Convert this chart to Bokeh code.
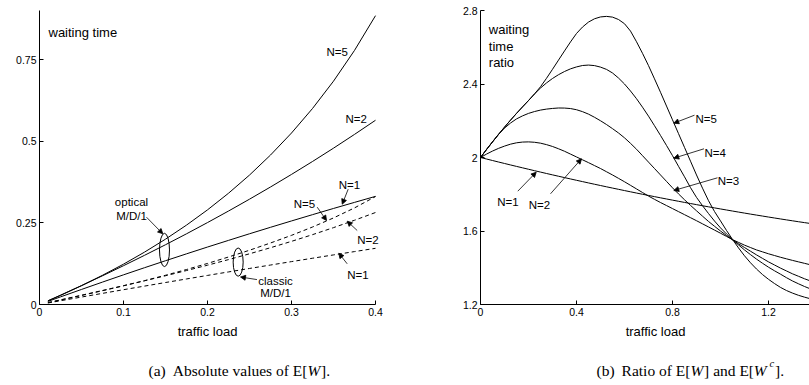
import numpy as np
from bokeh.plotting import figure
from bokeh.layouts import row, column
from bokeh.models import (Range1d, FixedTicker, CustomJSTickFormatter, Label,
                          Arrow, NormalHead)
from bokeh.embed import file_html
from bokeh.resources import INLINE

SANS = "Liberation Sans"
SERIF = "Liberation Serif"

# ---------------- (a) absolute waiting time ----------------
load_a = [0.01, 0.025, 0.05, 0.075, 0.1, 0.125, 0.15, 0.175, 0.2,
          0.225, 0.25, 0.275, 0.3, 0.325, 0.35, 0.375, 0.4]
optical_n1 = [0.0094, 0.0233, 0.0461, 0.0686, 0.0908, 0.1126, 0.1340, 0.1551, 0.1759,
              0.1963, 0.2165, 0.2363, 0.2558, 0.2750, 0.2940, 0.3126, 0.3310]
optical_n2 = [0.0113, 0.0286, 0.0579, 0.0880, 0.1188, 0.1505, 0.1830, 0.2164, 0.2508,
              0.2861, 0.3224, 0.3597, 0.3982, 0.4378, 0.4786, 0.5207, 0.5640]
optical_n5 = [0.0109, 0.0278, 0.0575, 0.0894, 0.1235, 0.1603, 0.2000, 0.2430, 0.2897,
              0.3406, 0.3962, 0.4575, 0.5250, 0.6000, 0.6837, 0.7778, 0.8842]
classic_n1 = [0.0046, 0.0115, 0.0228, 0.0341, 0.0453, 0.0563, 0.0673, 0.0782, 0.0890,
              0.0997, 0.1103, 0.1208, 0.1313, 0.1416, 0.1518, 0.1620, 0.1720]
classic_n2 = [0.0057, 0.0142, 0.0284, 0.0429, 0.0576, 0.0726, 0.0880, 0.1039, 0.1203,
              0.1374, 0.1552, 0.1738, 0.1933, 0.2138, 0.2353, 0.2579, 0.2816]
classic_n5 = [0.0054, 0.0136, 0.0276, 0.0422, 0.0572, 0.0729, 0.0895, 0.1071, 0.1257,
              0.1454, 0.1661, 0.1883, 0.2117, 0.2372, 0.2650, 0.2957, 0.3305]

xticks_a = [0, 0.1, 0.2, 0.3, 0.4]
xtick_labels_a = ["0", "0.1", "0.2", "0.3", "0.4"]
yticks_a = [0, 0.25, 0.5, 0.75]
ytick_labels_a = ["0", "0.25", "0.5", "0.75"]

# ---------------- (b) waiting time ratio ----------------
load_b = [0.0, 0.025, 0.05, 0.075, 0.1, 0.125, 0.15, 0.175, 0.2, 0.225,
          0.25, 0.275, 0.3, 0.325, 0.35, 0.375, 0.4, 0.425, 0.45, 0.475,
          0.5, 0.525, 0.55, 0.575, 0.6, 0.625, 0.65, 0.675, 0.7, 0.725,
          0.75, 0.775, 0.8, 0.825, 0.85, 0.875, 0.9, 0.925, 0.95, 0.975,
          1.0, 1.025, 1.05, 1.075, 1.1, 1.125, 1.15, 1.175, 1.2, 1.225,
          1.25, 1.275, 1.3, 1.325, 1.35, 1.375, 1.4]
ratio_n1 = [2.0, 1.9918, 1.9836, 1.9755, 1.9675, 1.9595, 1.9516, 1.9438, 1.936, 1.9283,
            1.9206, 1.913, 1.9055, 1.898, 1.8906, 1.8833, 1.876, 1.8688, 1.8616, 1.8545,
            1.8475, 1.8405, 1.8336, 1.8268, 1.820, 1.8133, 1.8066, 1.800, 1.7935, 1.787,
            1.7806, 1.7743, 1.768, 1.7618, 1.7556, 1.7495, 1.7435, 1.7375, 1.7316, 1.7258,
            1.720, 1.7143, 1.7086, 1.703, 1.6975, 1.692, 1.6866, 1.6813, 1.676, 1.6708,
            1.6656, 1.6605, 1.6555, 1.6505, 1.6456, 1.6408, 1.636]
ratio_n2 = [2.0, 2.0185, 2.035, 2.0496, 2.062, 2.0726, 2.080, 2.084, 2.085, 2.0829,
            2.078, 2.070, 2.060, 2.0476, 2.034, 2.0185, 2.003, 1.9875, 1.972, 1.956,
            1.940, 1.9225, 1.905, 1.8865, 1.868, 1.8485, 1.829, 1.8095, 1.790, 1.7723,
            1.755, 1.7385, 1.722, 1.7055, 1.689, 1.6725, 1.656, 1.639, 1.622, 1.605,
            1.588, 1.5705, 1.553, 1.538, 1.523, 1.510, 1.497, 1.4865, 1.476, 1.4665,
            1.457, 1.4485, 1.440, 1.432, 1.424, 1.416, 1.408]
ratio_n3 = [2.0, 2.0438, 2.085, 2.1256, 2.16, 2.1875, 2.21, 2.2265, 2.24, 2.2501,
            2.258, 2.2634, 2.267, 2.2694, 2.269, 2.2664, 2.26, 2.2495, 2.236, 2.2189,
            2.200, 2.1794, 2.157, 2.1335, 2.107, 2.077, 2.045, 2.010, 1.975, 1.940,
            1.905, 1.870, 1.835, 1.8019, 1.77, 1.7394, 1.71, 1.6808, 1.652, 1.6257,
            1.60, 1.5755, 1.552, 1.5305, 1.51, 1.490, 1.47, 1.451, 1.432, 1.415,
            1.398, 1.3825, 1.367, 1.3535, 1.34, 1.328, 1.316]
ratio_n4 = [2.0, 2.0431, 2.085, 2.1256, 2.165, 2.2031, 2.24, 2.2753, 2.31, 2.346,
            2.378, 2.4058, 2.43, 2.4506, 2.468, 2.4824, 2.493, 2.5006, 2.503, 2.5001,
            2.492, 2.4795, 2.46, 2.4325, 2.40, 2.3619, 2.32, 2.2738, 2.225, 2.1731,
            2.12, 2.0656, 2.01, 1.9521, 1.895, 1.836, 1.783, 1.7378, 1.695, 1.6543,
            1.617, 1.584, 1.553, 1.5243, 1.497, 1.4714, 1.447, 1.4245, 1.403, 1.3835,
            1.365, 1.3459, 1.328, 1.3126, 1.298, 1.2847, 1.272]
ratio_n5 = [2.0, 2.0431, 2.085, 2.1256, 2.165, 2.2031, 2.24, 2.2753, 2.31, 2.346,
            2.385, 2.431, 2.48, 2.53, 2.58, 2.629, 2.675, 2.710, 2.737, 2.755,
            2.765, 2.768, 2.764, 2.751, 2.728, 2.688, 2.63, 2.567, 2.50, 2.428,
            2.355, 2.28, 2.205, 2.13, 2.055, 1.98, 1.905, 1.833, 1.765, 1.706,
            1.655, 1.603, 1.554, 1.508, 1.465, 1.427, 1.393, 1.363, 1.337, 1.314,
            1.293, 1.276, 1.262, 1.25, 1.24, 1.231, 1.222]

xticks_b = [0, 0.4, 0.8, 1.2]
xtick_labels_b = ["0", "0.4", "0.8", "1.2"]
yticks_b = [1.2, 1.6, 2, 2.4, 2.8]
ytick_labels_b = ["1.2", "1.6", "2", "2.4", "2.8"]

TICK_CODE = "const i = tvals.indexOf(tick); return i < 0 ? '' : tlabels[i];"


def style_axes(p, xt, xl, yt, yl):
    p.xaxis.ticker = FixedTicker(ticks=xt)
    p.yaxis.ticker = FixedTicker(ticks=yt)
    p.xaxis.formatter = CustomJSTickFormatter(args=dict(tvals=xt, tlabels=xl), code=TICK_CODE)
    p.yaxis.formatter = CustomJSTickFormatter(args=dict(tvals=yt, tlabels=yl), code=TICK_CODE)
    for ax in (p.xaxis[0], p.yaxis[0]):
        ax.major_tick_in = 4
        ax.major_tick_out = 0
        ax.minor_tick_in = 0
        ax.minor_tick_out = 0
        ax.axis_line_color = "black"
        ax.axis_line_width = 1
        ax.major_tick_line_color = "black"
        ax.major_label_text_font = SANS
        ax.major_label_text_font_size = "10.5px"
        ax.major_label_text_color = "black"
        ax.major_label_standoff = 3
    p.xgrid.visible = False
    p.ygrid.visible = False
    p.outline_line_color = None
    p.background_fill_color = "white"
    p.border_fill_color = "white"


def text(p, x, y, s, size="11.5px", align="left", font=SANS, style="normal"):
    p.add_layout(Label(x=x, y=y, text=s, text_font=font, text_font_size=size,
                       text_align=align, text_baseline="alphabetic",
                       text_color="black", text_font_style=style))


def arrow(p, x0, y0, x1, y1):
    p.add_layout(Arrow(end=NormalHead(size=5, fill_color="black", line_color="black",
                                      line_width=0.8),
                       x_start=x0, y_start=y0, x_end=x1, y_end=y1,
                       line_color="black", line_width=0.8))


# ---------------- panel (a) ----------------
pa = figure(width=440, height=325, x_range=Range1d(0, 0.45), y_range=Range1d(0, 0.9),
            output_backend="svg", toolbar_location=None,
            min_border_left=39, min_border_right=23, min_border_top=10, min_border_bottom=21)
style_axes(pa, xticks_a, xtick_labels_a, yticks_a, ytick_labels_a)
pa.xaxis.bounds = (0, 0.4)

for ys in (optical_n1, optical_n2, optical_n5):
    pa.line(load_a, ys, line_color="black", line_width=1)
for ys in (classic_n1, classic_n2, classic_n5):
    pa.line(load_a, ys, line_color="black", line_width=1, line_dash="4 3")

# ellipses grouping the optical and the classic curves
la = np.array(load_a)
i15 = load_a.index(0.15)
opt_at = [optical_n1[i15], optical_n2[i15], optical_n5[i15]]
x_cls = 0.2365
cls_at = [float(np.interp(x_cls, la, c)) for c in (classic_n1, classic_n2, classic_n5)]
pa.ellipse(x=[0.1488, x_cls],
           y=[(max(opt_at) + min(opt_at)) / 2, (max(cls_at) + min(cls_at)) / 2],
           width=[0.0119, 0.0119],
           height=[max(opt_at) - min(opt_at) + 0.036, max(cls_at) - min(cls_at) + 0.036],
           fill_color=None, line_color="black", line_width=1)

text(pa, 0.0107, 0.8336, "waiting time", size="13px")
text(pa, 0.3417, 0.7723, "N=5")
text(pa, 0.3643, 0.5685, "N=2")
text(pa, 0.1095, 0.3132, "optical", align="center")
text(pa, 0.1095, 0.2724, "M/D/1", align="center")
arrow(pa, 0.1274, 0.2672, 0.1468, 0.2164)
text(pa, 0.2810, 0.0713, "classic", align="center")
text(pa, 0.2810, 0.0346, "M/D/1", align="center")
arrow(pa, 0.2589, 0.0762, 0.2393, 0.0842)
text(pa, 0.3563, 0.3643, "N=1")
arrow(pa, 0.3675, 0.3530, 0.3604, 0.3071)
text(pa, 0.3027, 0.3083, "N=5")
arrow(pa, 0.3306, 0.2979, 0.3417, 0.2571)
text(pa, 0.3782, 0.1981, "N=2")
arrow(pa, 0.3782, 0.2265, 0.3663, 0.2550)
text(pa, 0.3663, 0.0918, "N=1")
arrow(pa, 0.3663, 0.1246, 0.3563, 0.1571)

# ---------------- panel (b) ----------------
pb = figure(width=369, height=325, x_range=Range1d(0, 329 / 240), y_range=Range1d(1.2, 2.8),
            output_backend="svg", toolbar_location=None,
            min_border_left=40, min_border_right=0, min_border_top=10, min_border_bottom=21)
style_axes(pb, xticks_b, xtick_labels_b, yticks_b, ytick_labels_b)

for ys in (ratio_n1, ratio_n2, ratio_n3, ratio_n4, ratio_n5):
    pb.line(load_b, ys, line_color="black", line_width=1)

text(pb, 0.0346, 2.695, "waiting", size="13px")
text(pb, 0.0346, 2.604, "time", size="13px")
text(pb, 0.0346, 2.515, "ratio", size="13px")

text(pb, 0.8958, 2.2106, "N=5")
arrow(pb, 0.8917, 2.2302, 0.8054, 2.1867)
text(pb, 0.9333, 2.0234, "N=4")
arrow(pb, 0.9313, 2.0474, 0.8054, 1.9962)
text(pb, 0.9888, 1.8694, "N=3")
arrow(pb, 0.9875, 1.8895, 0.8054, 1.8204)
text(pb, 0.0696, 1.7567, "N=1")
arrow(pb, 0.1554, 1.8166, 0.2321, 1.9200)
text(pb, 0.2013, 1.7426, "N=2")
arrow(pb, 0.2917, 1.8024, 0.4208, 1.9929)

# ---------------- axis titles and captions strip ----------------
pc = figure(width=809, height=60, x_range=Range1d(0, 809), y_range=Range1d(0, 60),
            output_backend="svg", toolbar_location=None, x_axis_type=None, y_axis_type=None,
            min_border=0)
pc.xgrid.visible = False
pc.ygrid.visible = False
pc.outline_line_color = None

text(pc, 207, 54, "traffic load", size="13px", align="center")
text(pc, 655, 54, "traffic load", size="13px", align="center")

CAP = "15.5px"
text(pc, 148.0, 15, "(a)", size=CAP, font=SERIF)
text(pc, 172.2, 15, "Absolute values of E[", size=CAP, font=SERIF)
text(pc, 306.9, 15, "W", size=CAP, font=SERIF, style="italic")
text(pc, 320.5, 15, "].", size=CAP, font=SERIF)

text(pc, 596.0, 15, "(b)", size=CAP, font=SERIF)
text(pc, 621.1, 15, "Ratio of E[", size=CAP, font=SERIF)
text(pc, 690.0, 15, "W", size=CAP, font=SERIF, style="italic")
text(pc, 703.6, 15, "] and E[", size=CAP, font=SERIF)
text(pc, 753.3, 15, "W", size=CAP, font=SERIF, style="italic")
text(pc, 769.0, 22, "c", size="10.5px", font=SERIF, style="italic")
text(pc, 774.5, 15, "].", size=CAP, font=SERIF)

layout = column(row(pa, pb), pc)
open("out.html", "w").write(file_html(layout, INLINE))
